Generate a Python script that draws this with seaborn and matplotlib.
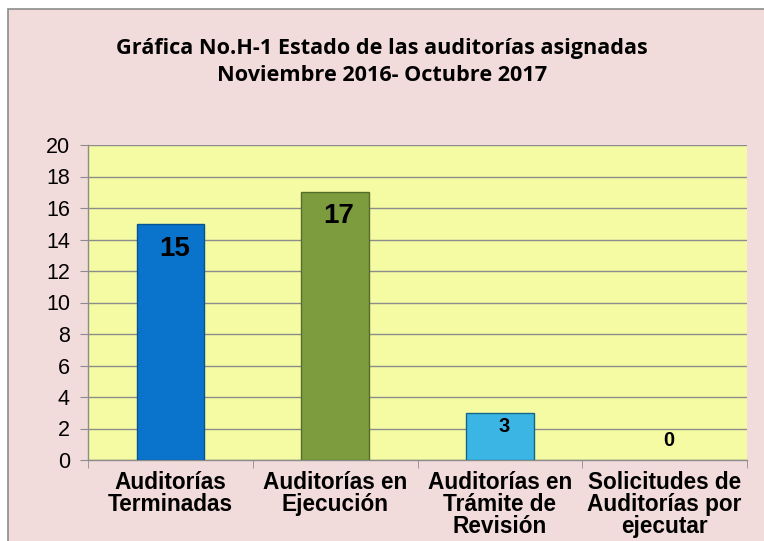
import matplotlib
matplotlib.use('Agg')
from matplotlib import pyplot as plt
from matplotlib.patches import Rectangle
import pandas as pd
import seaborn as sns

sns.set_style('white')
plt.rcParams['font.family'] = ['Liberation Sans', 'DejaVu Sans']
plt.rcParams['text.color'] = 'black'
plt.rcParams['xtick.color'] = 'black'
plt.rcParams['ytick.color'] = 'black'

categories = ['Auditorías\nTerminadas', 'Auditorías en\nEjecución',
              'Auditorías en\nTrámite de\nRevisión', 'Solicitudes de\nAuditorías por\nejecutar']
values = [15, 17, 3, 0]
bar_colors = ['#0A74CC', '#7C9C3E', '#3BB6E4', '#A6A6A6']
title = 'Gráfica No.H-1 Estado de las auditorías asignadas\nNoviembre 2016- Octubre 2017'

PINK = '#F2DCDB'
YELLOW = '#F5FBA2'

df = pd.DataFrame({'cat': categories, 'val': values})

fig = plt.figure(figsize=(7.64, 5.41), dpi=100)
fig.patch.set_facecolor('white')
fig.patches.append(Rectangle((8 / 764, -0.1), 1.2, 1 - 9 / 541 + 0.1,
                             transform=fig.transFigure, facecolor=PINK,
                             edgecolor='#8C8C8C', lw=1.2, zorder=-5))

ax = fig.add_axes([88 / 764, 1 - 460 / 541, (747 - 88) / 764, (460 - 145) / 541])
ax.set_facecolor(YELLOW)

sns.barplot(data=df, x='cat', y='val', hue='cat', palette=bar_colors,
            saturation=1, legend=False, width=0.41, ax=ax, zorder=3)
for patch, c, v in zip(ax.patches, bar_colors, values):
    patch.set_edgecolor(sns.set_hls_values(c, l=0.3))
    patch.set_linewidth(1 if v > 0 else 0)

ax.set_ylim(0, 20)
ax.set_xlim(-0.5, len(categories) - 0.5)
ax.set_yticks(range(0, 21, 2))
ax.yaxis.grid(True, color='#8C8C8C', lw=1, zorder=1)
ax.set_axisbelow(True)
for s in ['top', 'right']:
    ax.spines[s].set_visible(False)
for s in ['left', 'bottom']:
    ax.spines[s].set_color('#8C8C8C')
    ax.spines[s].set_linewidth(1)

ax.tick_params(axis='y', length=6, color='#8C8C8C', labelsize=15.5, pad=7, left=True)
ax.set_xticks(range(len(categories)))
ax.set_xticklabels(categories, fontsize=16.3, fontweight='bold', linespacing=0.93)
ax.set_xticks([i - 0.5 for i in range(len(categories) + 1)], minor=True)
ax.tick_params(axis='x', which='major', length=0, pad=8)
ax.tick_params(axis='x', which='minor', length=6, color='#8C8C8C', bottom=True)
ax.set_xlabel('')
ax.set_ylabel('')

# value labels (offsets in pixels from bar top)
offsets = [-25, -24, -14, 19]
sizes = [20, 20, 14.5, 14.5]
for i, (v, dy, fs) in enumerate(zip(values, offsets, sizes)):
    ax.annotate(str(v), (i, v), xytext=(4, dy), textcoords='offset pixels',
                ha='center', va='center', fontsize=fs, fontweight='bold', zorder=5)

fig.text(0.5, 1 - 62 / 541, title, ha='center', va='center', fontsize=15.6,
         fontweight='bold', family=['Open Sans', 'DejaVu Sans'], linespacing=1.35)

fig.savefig('out.png', dpi=100)
